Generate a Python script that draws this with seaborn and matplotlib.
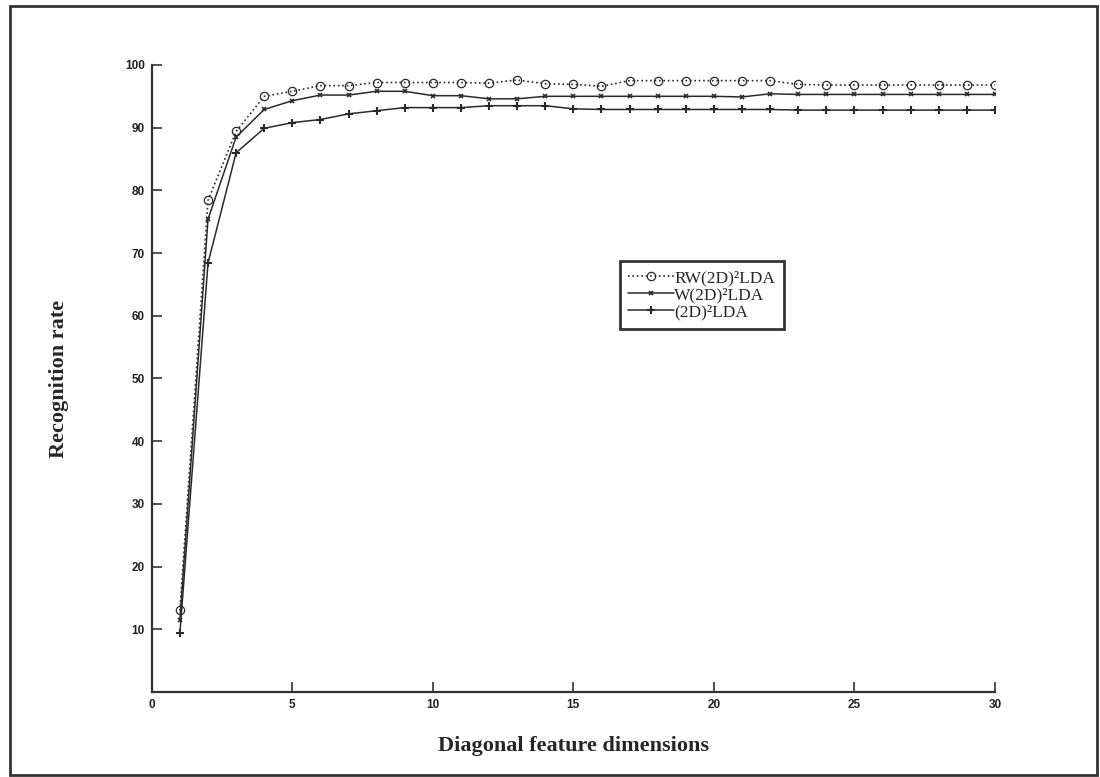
#!/usr/bin/env python
"""
  Recognition rate vs diagonal feature dimensions
"""

import matplotlib
matplotlib.use('Agg')
import matplotlib.pyplot as plt
from matplotlib.patches import Rectangle
import seaborn as sns
import pandas as pd

dims = list(range(1, 31))
rw_2d2lda = [13.0, 78.4, 89.4, 95.0, 95.8, 96.7, 96.7, 97.2, 97.2, 97.2,
             97.2, 97.1, 97.6, 97.0, 96.9, 96.6, 97.5, 97.5, 97.5, 97.5,
             97.5, 97.5, 96.9, 96.8, 96.8, 96.8, 96.8, 96.8, 96.8, 96.8]
w_2d2lda = [11.5, 75.4, 88.5, 92.9, 94.3, 95.2, 95.2, 95.8, 95.8, 95.1,
            95.1, 94.6, 94.6, 95.0, 95.0, 95.0, 95.0, 95.0, 95.0, 95.0,
            94.9, 95.4, 95.3, 95.3, 95.3, 95.3, 95.3, 95.3, 95.3, 95.3]
plain_2d2lda = [9.4, 68.4, 86.0, 89.9, 90.8, 91.3, 92.2, 92.7, 93.2, 93.2,
                93.2, 93.5, 93.5, 93.5, 93.0, 92.9, 92.9, 92.9, 92.9, 92.9,
                92.9, 92.9, 92.8, 92.8, 92.8, 92.8, 92.8, 92.8, 92.8, 92.8]
labels = ["RW(2D)\u00b2LDA", "W(2D)\u00b2LDA", "(2D)\u00b2LDA"]
xticks = [0, 5, 10, 15, 20, 25, 30]
yticks = [10, 20, 30, 40, 50, 60, 70, 80, 90, 100]

sns.set_style("white")

fig = plt.figure(figsize=(11, 7.77), dpi=100)
ax = fig.add_axes([0.138, 0.1094, 0.7665, 0.807])

lc = "#2a2a2a"
sns.lineplot(x=dims, y=rw_2d2lda, ax=ax, color=lc, linestyle=":", lw=1.2,
             marker="o", markersize=6, markerfacecolor="none",
             markeredgecolor=lc, markeredgewidth=0.9, label=labels[0])
sns.lineplot(x=dims, y=w_2d2lda, ax=ax, color=lc, linestyle="-", lw=1.1,
             marker="x", markersize=3.5, markeredgecolor=lc,
             markeredgewidth=1.2, label=labels[1])
sns.lineplot(x=dims, y=plain_2d2lda, ax=ax, color=lc, linestyle="-", lw=1.1,
             marker="+", markersize=6, markeredgecolor=lc,
             markeredgewidth=1.5, label=labels[2])

ax.set_xlim(0, 30)
ax.set_ylim(0, 100)
ax.set_xticks(xticks)
ax.set_yticks(yticks)
ax.set_xticklabels([str(t) for t in xticks], family="Liberation Sans",
                   fontsize=8.5, fontweight="bold", color="#222222")
ax.set_yticklabels([str(t) for t in yticks], family="Liberation Sans",
                   fontsize=8.5, fontweight="bold", color="#222222")
ax.tick_params(left=True, bottom=True, direction="in", length=7, width=1.2,
               color="#333333", pad=5)

sns.despine(ax=ax)
for side in ("left", "bottom"):
  ax.spines[side].set_color("#333333")
  ax.spines[side].set_linewidth(1.6)

ax.set_xlabel("Diagonal feature dimensions", family="Liberation Serif",
              fontsize=16, fontweight="bold", labelpad=18)
ax.set_ylabel("Recognition rate", family="Liberation Serif",
              fontsize=16, fontweight="bold", labelpad=40)

leg = ax.legend(loc="upper left", bbox_to_anchor=(0.555, 0.687),
                prop={"family": "Liberation Serif", "size": 12.5},
                handlelength=2.6, handletextpad=0.05, labelspacing=0.05,
                borderpad=0.5, borderaxespad=0, fancybox=False,
                frameon=True)
leg.get_frame().set_edgecolor("black")
leg.get_frame().set_linewidth(2)

# outer scanned frame
fig.patches.append(Rectangle((10 / 1100, 2 / 777), 1087 / 1100, 769 / 777,
                             transform=fig.transFigure, fill=False,
                             edgecolor="#333333", linewidth=2))

fig.savefig("out.png", dpi=100)
